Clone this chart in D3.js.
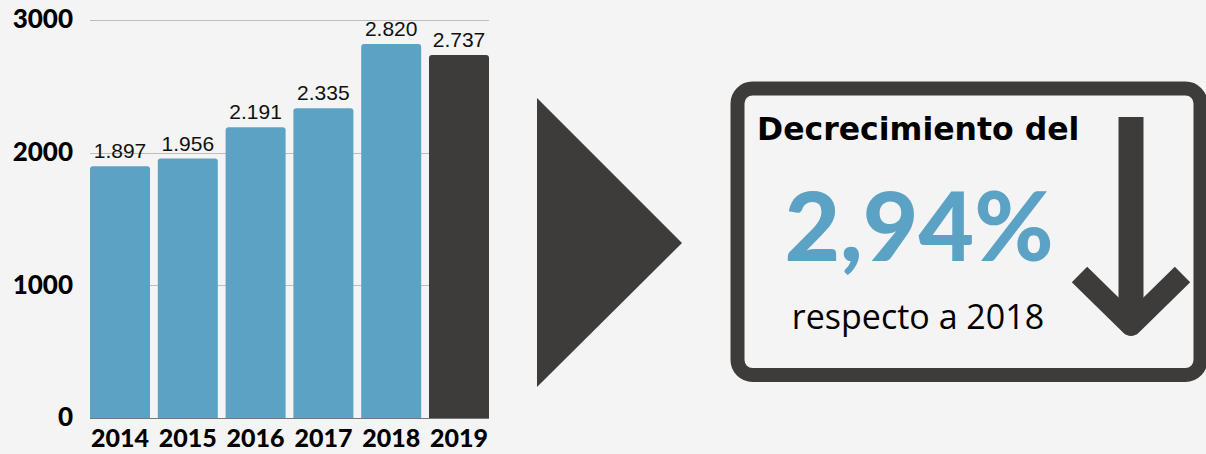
<!DOCTYPE html>
<html>
<head>
<meta charset="utf-8">
<script src="https://cdn.jsdelivr.net/npm/d3@7"></script>
<style>
  html, body { margin: 0; padding: 0; background: #f4f4f4; }
  svg { display: block; }
</style>
</head>
<body>
<svg id="chart" width="1206" height="454"></svg>
<script>
// data
var years = ['2014', '2015', '2016', '2017', '2018', '2019']
var totals = [1897, 1956, 2191, 2335, 2820, 2737]
var yTicks = [0, 1000, 2000, 3000]
var highlightYear = '2019'
var changeText = '2,94%'
var headText = 'Decrecimiento del'
var footText = 'respecto a 2018'

var blue = '#5ca2c4'
var dark = '#3d3c3b'

var svg = d3.select('#chart')

var x = d3.scaleBand()
  .domain(years)
  .range([90, 489])
  .paddingInner(0.115)
  .paddingOuter(0)

var y = d3.scaleLinear()
  .domain([0, 3000])
  .range([418, 20])

// grid lines
svg.append('g')
  .selectAll('line')
  .data(yTicks.filter(function (d) { return d > 0 }))
  .enter()
  .append('line')
  .attr('x1', 90)
  .attr('x2', 489)
  .attr('y1', function (d) { return Math.round(y(d)) + 0.5 })
  .attr('y2', function (d) { return Math.round(y(d)) + 0.5 })
  .attr('stroke', '#bdbdbd')
  .attr('stroke-width', 1)

// y axis labels
var yAxis = d3.axisLeft(y).tickValues(yTicks).tickFormat(d3.format('d')).tickSize(0).tickPadding(0)
svg.append('g')
  .attr('transform', 'translate(73,0)')
  .call(yAxis)
  .call(function (g) { g.select('.domain').remove() })
  .selectAll('text')
  .attr('font-family', 'Lato, sans-serif')
  .attr('font-weight', 900)
  .attr('font-size', 26)
  .attr('fill', '#000')
  .attr('dy', '0.3em')

// bars, rounded on top only
function barPath (d, i) {
  var x0 = x(years[i])
  var w = x.bandwidth()
  var top = y(d)
  var base = y(0)
  var r = 3
  return 'M' + x0 + ',' + base +
    'V' + (top + r) +
    'Q' + x0 + ',' + top + ' ' + (x0 + r) + ',' + top +
    'H' + (x0 + w - r) +
    'Q' + (x0 + w) + ',' + top + ' ' + (x0 + w) + ',' + (top + r) +
    'V' + base + 'Z'
}

svg.append('g')
  .selectAll('path')
  .data(totals)
  .enter()
  .append('path')
  .attr('d', barPath)
  .attr('fill', function (d, i) { return years[i] === highlightYear ? dark : blue })

// baseline
svg.append('line')
  .attr('x1', 90)
  .attr('x2', 489)
  .attr('y1', y(0) + 0.5)
  .attr('y2', y(0) + 0.5)
  .attr('stroke', '#777')
  .attr('stroke-width', 1)

// value labels
svg.append('g')
  .selectAll('text')
  .data(totals)
  .enter()
  .append('text')
  .attr('x', function (d, i) { return x(years[i]) + x.bandwidth() / 2 })
  .attr('y', function (d) { return y(d) - 8 })
  .attr('text-anchor', 'middle')
  .attr('font-family', 'Liberation Sans, Arial, sans-serif')
  .attr('font-size', 21)
  .attr('fill', '#111')
  .text(function (d) { return d3.format(',')(d).replace(',', '.') })

// x axis labels
var xAxis = d3.axisBottom(x).tickSize(0).tickPadding(0)
svg.append('g')
  .attr('transform', 'translate(0,447)')
  .call(xAxis)
  .call(function (g) { g.select('.domain').remove() })
  .selectAll('text')
  .attr('dy', 0)
  .attr('font-family', 'Lato, sans-serif')
  .attr('font-weight', 900)
  .attr('font-size', 25)
  .attr('fill', '#000')

// big arrow pointing right
svg.append('path')
  .attr('d', 'M537,98 L682,243 L537,387 Z')
  .attr('fill', dark)

// callout box
svg.append('rect')
  .attr('x', 737.5)
  .attr('y', 88.5)
  .attr('width', 463)
  .attr('height', 286.5)
  .attr('rx', 15)
  .attr('fill', 'none')
  .attr('stroke', dark)
  .attr('stroke-width', 14)

svg.append('text')
  .attr('x', 757)
  .attr('y', 140)
  .attr('font-family', 'DejaVu Sans, sans-serif')
  .attr('font-weight', 'bold')
  .attr('font-size', 31.5)
  .attr('fill', '#000')
  .text(headText)

svg.append('text')
  .attr('x', 919)
  .attr('y', 261)
  .attr('text-anchor', 'middle')
  .attr('font-family', 'Lato, sans-serif')
  .attr('font-weight', 900)
  .attr('font-size', 96)
  .attr('fill', blue)
  .text(changeText)

svg.append('text')
  .attr('x', 918)
  .attr('y', 329)
  .attr('text-anchor', 'middle')
  .attr('font-family', 'Open Sans, sans-serif')
  .attr('font-size', 34)
  .attr('fill', '#000')
  .text(footText)

// down arrow
svg.append('path')
  .attr('d', 'M1131,117 V320')
  .attr('stroke', dark)
  .attr('stroke-width', 25)
  .attr('fill', 'none')

svg.append('path')
  .attr('d', 'M1079.5,274.5 L1131,325 L1182.5,274.5')
  .attr('stroke', dark)
  .attr('stroke-width', 22)
  .attr('stroke-linejoin', 'round')
  .attr('fill', 'none')
</script>
</body>
</html>
